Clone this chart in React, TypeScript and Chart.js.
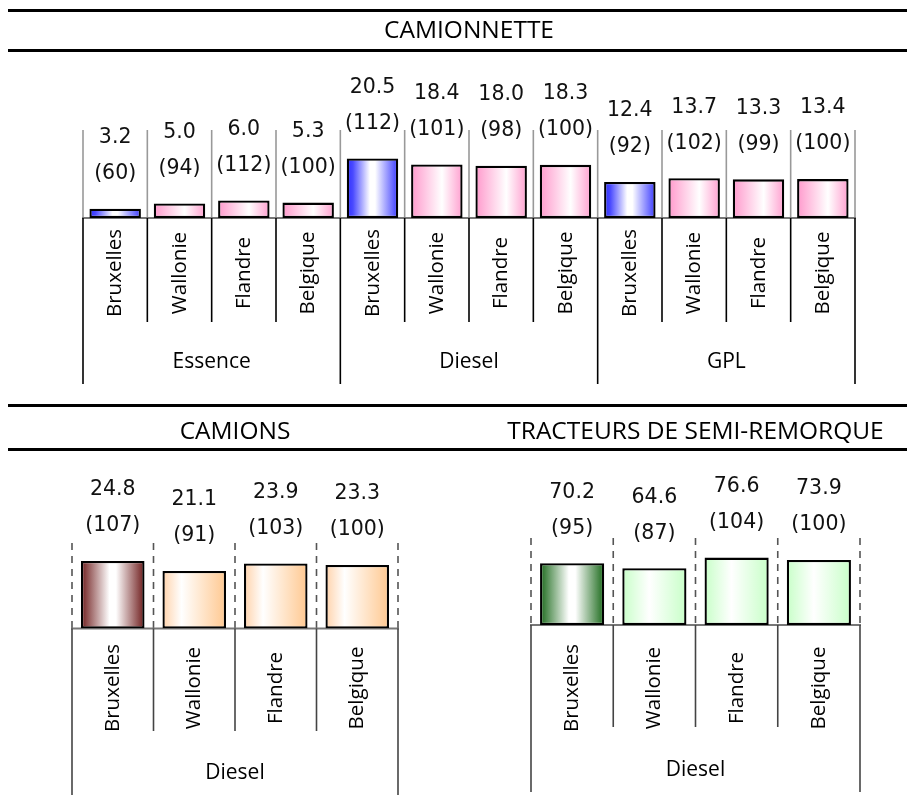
import React, { useEffect, useRef } from 'react';
import { Chart, registerables } from 'chart.js';

Chart.register(...registerables);

// ---------- data ----------
const regions = ['Bruxelles', 'Wallonie', 'Flandre', 'Belgique'];

const vanFuels = ['Essence', 'Diesel', 'GPL'];
const vanValues = [3.2, 5.0, 6.0, 5.3, 20.5, 18.4, 18.0, 18.3, 12.4, 13.7, 13.3, 13.4];
const vanIndex = [60, 94, 112, 100, 112, 101, 98, 100, 92, 102, 99, 100];

const truckFuels = ['Diesel'];
const truckValues = [24.8, 21.1, 23.9, 23.3];
const truckIndex = [107, 91, 103, 100];

const tractorFuels = ['Diesel'];
const tractorValues = [70.2, 64.6, 76.6, 73.9];
const tractorIndex = [95, 87, 104, 100];

// ---------- styles ----------
type Stops = [number, string][];
const blueStops: Stops = [[0, '#2e2eff'], [0.12, '#4a4aff'], [0.45, '#ffffff'], [0.55, '#ffffff'], [1, '#3a3aff']];
const pinkStops: Stops = [[0, '#ff99cc'], [0.6, '#ffffff'], [1, '#ff9fcf']];
const maroonStops: Stops = [[0, '#6e1c1c'], [0.45, '#ffffff'], [0.55, '#ffffff'], [1, '#6e1c1c']];
const peachStops: Stops = [[0, '#ffd2aa'], [0.3, '#ffffff'], [1, '#ffc890']];
const greenStops: Stops = [[0, '#1b6a1b'], [0.45, '#ffffff'], [0.55, '#ffffff'], [1, '#1b6a1b']];
const lightGreenStops: Stops = [[0, '#c8ffc8'], [0.42, '#ffffff'], [1, '#c8ffc8']];

const NUM_FONT = '20.5px "DejaVu Sans", Verdana, sans-serif';
const CAT_FONT = '20.5px "Open Sans", "Noto Sans", sans-serif';
const GROUP_FONT = '21px "Open Sans", "Noto Sans", sans-serif';
const TITLE_FONT = '24.5px "Open Sans", "Noto Sans", sans-serif';

type Decor = {
  groups: string[];
  values: number[];
  index: number[];
  title: string;
  titleY: number;
  gridDash: number[];
  gridColor: string;
  gridExtend: number;
  sepColor: string;
  sepBottom: number;
  outerBottom: number;
  labelCenter: number;
  groupLabelY: number;
  baseColor: string;
  rules: number[];
};

function gradientFill(first: Stops, other: Stops, barFrac: number) {
  return (c: any) => {
    if (c.type !== 'data') return '#ffffff';
    const chart = c.chart;
    const a = chart.chartArea;
    const xs = chart.scales && chart.scales.x;
    if (!a || !xs) return '#ffffff';
    const n = chart.data.labels.length;
    const w = ((a.right - a.left) / n) * barFrac;
    const cx = xs.getPixelForValue(c.dataIndex);
    const stops = chart.data.labels[c.dataIndex] === regions[0] ? first : other;
    const g = chart.ctx.createLinearGradient(cx - w / 2, 0, cx + w / 2, 0);
    stops.forEach(([o, col]) => g.addColorStop(o, col));
    return g;
  };
}

function decorPlugin(d: Decor) {
  return {
    id: 'decor',
    beforeDatasetsDraw(chart: any) {
      const { ctx, chartArea: a } = chart;
      const n = chart.data.labels.length;
      const w = (a.right - a.left) / n;
      ctx.save();
      // full-width rules
      ctx.fillStyle = '#000';
      d.rules.forEach((y) => ctx.fillRect(8, y, chart.width - 8, 3));
      // grid lines between categories
      ctx.strokeStyle = d.gridColor;
      ctx.lineWidth = 1.6;
      ctx.setLineDash(d.gridDash);
      for (let i = 0; i <= n; i++) {
        const x = a.left + i * w;
        ctx.beginPath();
        ctx.moveTo(x, a.top);
        ctx.lineTo(x, a.bottom + d.gridExtend);
        ctx.stroke();
      }
      ctx.setLineDash([]);
      // baseline
      ctx.strokeStyle = d.baseColor;
      ctx.lineWidth = 2;
      ctx.beginPath();
      ctx.moveTo(a.left - 1, a.bottom);
      ctx.lineTo(a.right + 1, a.bottom);
      ctx.stroke();
      ctx.restore();
    },
    afterDatasetsDraw(chart: any) {
      const { ctx, chartArea: a } = chart;
      const labels: string[] = chart.data.labels;
      const n = labels.length;
      const w = (a.right - a.left) / n;
      const groupSize = n / d.groups.length;
      ctx.save();
      // value labels above bars
      const meta = chart.getDatasetMeta(0);
      ctx.fillStyle = '#111';
      ctx.font = NUM_FONT;
      ctx.textAlign = 'center';
      ctx.textBaseline = 'middle';
      meta.data.forEach((el: any, i: number) => {
        ctx.fillText(d.values[i].toFixed(1), el.x, el.y - 71);
        ctx.fillText('(' + d.index[i] + ')', el.x, el.y - 35);
      });
      // separators below axis
      ctx.strokeStyle = d.sepColor;
      ctx.lineWidth = 1.6;
      for (let i = 0; i <= n; i++) {
        const x = a.left + i * w;
        const bottom = i % groupSize === 0 ? d.outerBottom : d.sepBottom;
        ctx.beginPath();
        ctx.moveTo(x, a.bottom);
        ctx.lineTo(x, bottom);
        ctx.stroke();
      }
      // rotated category labels
      ctx.fillStyle = '#000';
      ctx.font = CAT_FONT;
      labels.forEach((lab, i) => {
        const cx = a.left + (i + 0.5) * w;
        ctx.save();
        ctx.translate(cx + 6, d.labelCenter);
        ctx.rotate(-Math.PI / 2);
        ctx.textAlign = 'center';
        ctx.textBaseline = 'alphabetic';
        ctx.fillText(lab, 0, 0);
        ctx.restore();
      });
      // group labels
      ctx.font = GROUP_FONT;
      ctx.textAlign = 'center';
      ctx.textBaseline = 'middle';
      d.groups.forEach((g, gi) => {
        const cx = a.left + (gi + 0.5) * groupSize * w;
        ctx.fillText(g, cx, d.groupLabelY);
      });
      // title
      ctx.font = TITLE_FONT;
      ctx.textBaseline = 'alphabetic';
      ctx.fillText(d.title, (a.left + a.right) / 2, d.titleY);
      ctx.restore();
    },
  };
}

type Spec = {
  labels: string[];
  values: number[];
  max: number;
  padding: { left: number; right: number; top: number; bottom: number };
  barFrac: number;
  first: Stops;
  other: Stops;
  decor: Decor;
};

function buildChart(canvas: HTMLCanvasElement, s: Spec) {
  return new Chart(canvas, {
    type: 'bar',
    data: {
      labels: s.labels,
      datasets: [
        {
          data: s.values,
          backgroundColor: gradientFill(s.first, s.other, s.barFrac) as any,
          borderColor: '#000',
          borderWidth: 2.3,
          borderSkipped: false,
          barPercentage: s.barFrac,
          categoryPercentage: 1,
        },
      ],
    },
    options: {
      responsive: false,
      maintainAspectRatio: false,
      animation: false,
      devicePixelRatio: 1,
      events: [],
      layout: { padding: s.padding },
      scales: {
        x: { display: false, offset: true },
        y: { display: false, min: 0, max: s.max },
      },
      plugins: {
        legend: { display: false },
        tooltip: { enabled: false },
        title: { display: false },
      },
    },
    plugins: [decorPlugin(s.decor) as any],
  });
}

const CANVAS_A = { left: 0, top: 0, width: 915, height: 400 };
const CANVAS_B = { left: 0, top: 400, width: 457, height: 405 };
const CANVAS_C = { left: 457, top: 400, width: 458, height: 405 };

export default function App() {
  const refA = useRef<HTMLCanvasElement>(null);
  const refB = useRef<HTMLCanvasElement>(null);
  const refC = useRef<HTMLCanvasElement>(null);

  useEffect(() => {
    const charts: Chart[] = [];
    const vanLabels = vanFuels.flatMap(() => regions);
    charts.push(
      buildChart(refA.current!, {
        labels: vanLabels,
        values: vanValues,
        max: 30.3,
        padding: { left: 83, right: 60, top: 130, bottom: 182 },
        barFrac: 0.8,
        first: blueStops,
        other: pinkStops,
        decor: {
          groups: vanFuels,
          values: vanValues,
          index: vanIndex,
          title: 'CAMIONNETTE',
          titleY: 38,
          gridDash: [],
          gridColor: '#999999',
          gridExtend: 0,
          sepColor: '#000000',
          sepBottom: 322,
          outerBottom: 384,
          labelCenter: 273,
          groupLabelY: 362,
          baseColor: '#777777',
          rules: [9, 49],
        },
      })
    );
    charts.push(
      buildChart(refB.current!, {
        labels: truckFuels.flatMap(() => regions),
        values: truckValues,
        max: 31.4,
        padding: { left: 72, right: 59, top: 143, bottom: 176.5 },
        barFrac: 0.78,
        first: maroonStops,
        other: peachStops,
        decor: {
          groups: truckFuels,
          values: truckValues,
          index: truckIndex,
          title: 'CAMIONS',
          titleY: 38.5,
          gridDash: [7, 6],
          gridColor: '#555555',
          gridExtend: 4,
          sepColor: '#444444',
          sepBottom: 331,
          outerBottom: 395,
          labelCenter: 288,
          groupLabelY: 373,
          baseColor: '#777777',
          rules: [],
        },
      })
    );
    charts.push(
      buildChart(refC.current!, {
        labels: tractorFuels.flatMap(() => regions),
        values: tractorValues,
        max: 98.9,
        padding: { left: 74, right: 55, top: 138, bottom: 180 },
        barFrac: 0.78,
        first: greenStops,
        other: lightGreenStops,
        decor: {
          groups: tractorFuels,
          values: tractorValues,
          index: tractorIndex,
          title: 'TRACTEURS DE SEMI-REMORQUE',
          titleY: 38.5,
          gridDash: [7, 6],
          gridColor: '#555555',
          gridExtend: 4,
          sepColor: '#444444',
          sepBottom: 327,
          outerBottom: 392,
          labelCenter: 288,
          groupLabelY: 370,
          baseColor: '#777777',
          rules: [],
        },
      })
    );
    return () => charts.forEach((c) => c.destroy());
  }, []);

  const canvasStyle = (c: { left: number; top: number; width: number; height: number }) => ({
    position: 'absolute' as const,
    left: c.left - 8,
    top: c.top - 8,
    width: c.width,
    height: c.height,
  });
  const line = (pageY: number) => (
    <div
      style={{
        position: 'absolute',
        left: 0,
        top: pageY - 8,
        width: 907,
        height: 3,
        background: '#000',
      }}
    />
  );

  return (
    <div style={{ position: 'relative', width: 899, height: 796 }}>
      <canvas ref={refA} width={CANVAS_A.width} height={CANVAS_A.height} style={canvasStyle(CANVAS_A)} />
      <canvas ref={refB} width={CANVAS_B.width} height={CANVAS_B.height} style={canvasStyle(CANVAS_B)} />
      <canvas ref={refC} width={CANVAS_C.width} height={CANVAS_C.height} style={canvasStyle(CANVAS_C)} />
      {line(404)}
      {line(448)}
    </div>
  );
}
